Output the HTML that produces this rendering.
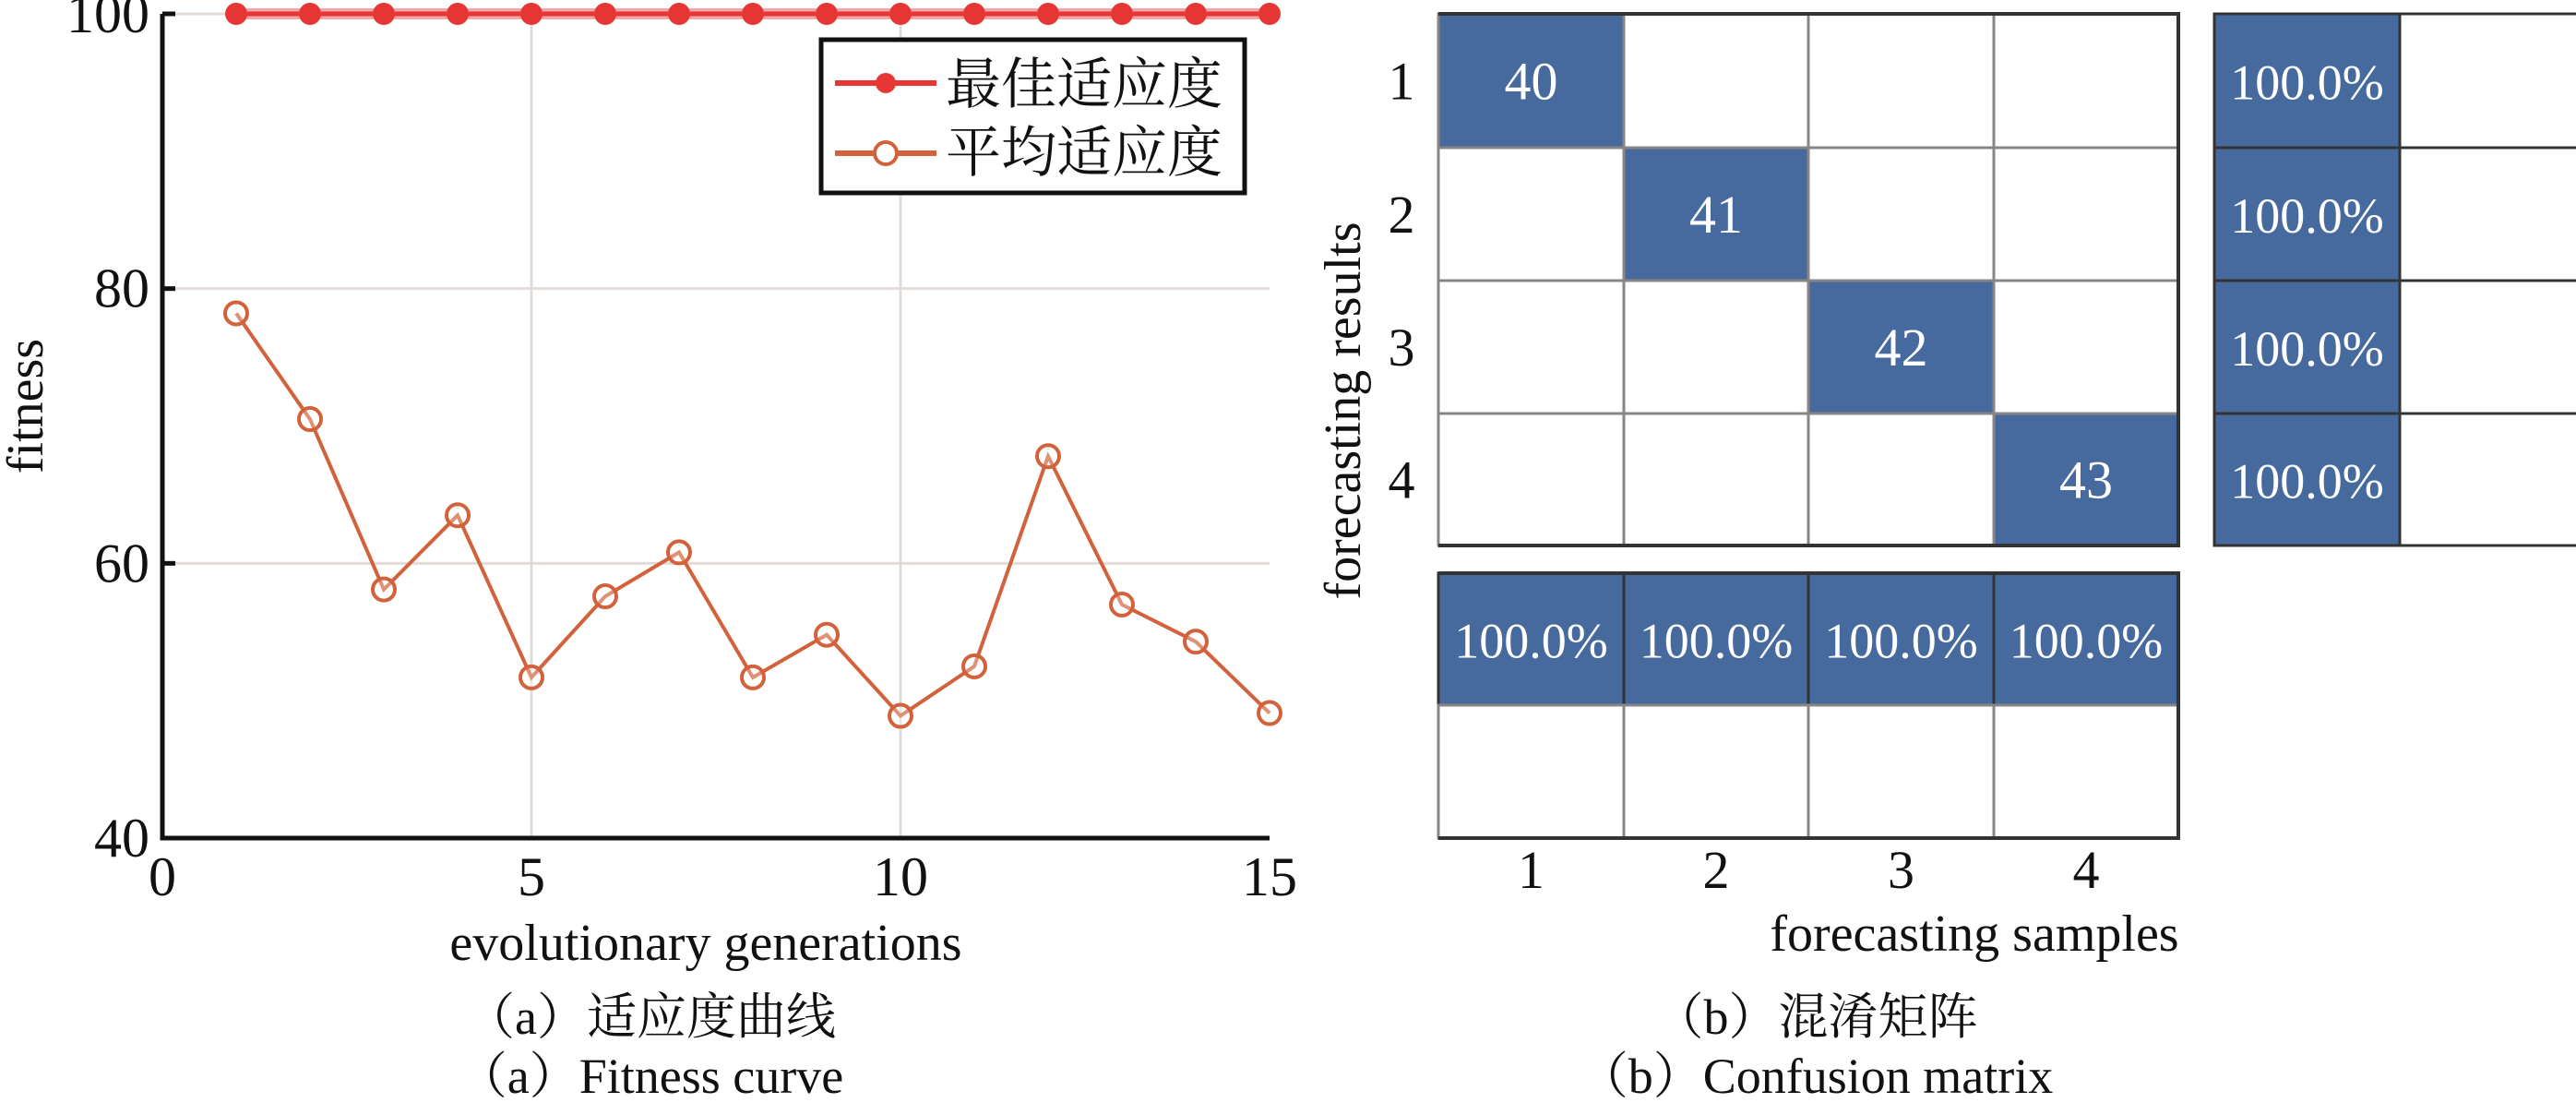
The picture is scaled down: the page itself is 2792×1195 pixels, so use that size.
<!DOCTYPE html>
<html><head><meta charset="utf-8"><style>
html,body{margin:0;padding:0;background:#fff;}
svg{display:block;font-family:"Liberation Serif","Noto Serif CJK SC",serif;}
</style></head><body>
<svg id="svg" width="2792" height="1195" viewBox="0 0 2792 1195" xmlns="http://www.w3.org/2000/svg">
<g id="left"></g>
<g id="right"></g>
</svg>
<script>
const generations=[1,2,3,4,5,6,7,8,9,10,11,12,13,14,15];
const bestFitness=[100,100,100,100,100,100,100,100,100,100,100,100,100,100,100];
const avgFitness=[78.2,70.5,58.1,63.5,51.7,57.6,60.8,51.7,54.8,48.9,52.5,67.8,57,54.3,49.1];
const xTicks=[0,5,10,15];
const yTicks=[40,60,80,100];
const matrixCounts=[[40,0,0,0],[0,41,0,0],[0,0,42,0],[0,0,0,43]];
const rowPercent=["100.0%","100.0%","100.0%","100.0%"];
const colPercent=["100.0%","100.0%","100.0%","100.0%"];
const classLabels=["1","2","3","4"];

const NS="http://www.w3.org/2000/svg";
function mk(parent,tag,attrs,text){const e=document.createElementNS(NS,tag);for(const k in attrs)e.setAttribute(k,attrs[k]);if(text!==undefined)e.textContent=text;parent.appendChild(e);return e;}
const L=document.getElementById('left');
const X0=176,X1=1376,Y0=908,Y1=15;
const xs=v=>X0+(v-0)/(15-0)*(X1-X0);
const ys=v=>Y0-(v-40)/(100-40)*(Y0-Y1);
// grid
xTicks.forEach(t=>{if(t>0&&t<15){const g=mk(L,'line',{x1:xs(t),x2:xs(t),y1:Y0,y2:Y1,stroke:'#e2dcd8','stroke-width':3});

}});
yTicks.forEach(t=>{if(t>40){const g=mk(L,'line',{x1:X0,x2:X1,y1:ys(t),y2:ys(t),stroke:'#e2dcd8','stroke-width':3});

}});
// axes
const ax=mk(L,'path',{d:`M${X0},${Y1} V${Y0} H${X1}`,fill:'none',stroke:'#111','stroke-width':5});


yTicks.forEach(t=>{
 const tk=mk(L,'line',{x1:X0,x2:X0+14,y1:ys(t),y2:ys(t),stroke:'#111','stroke-width':5});
 
 
 const tl=mk(L,'text',{x:X0-14,y:ys(t)+20,'text-anchor':'end','font-size':60,fill:'#111'},String(t));
 
 
});
xTicks.forEach(t=>{
 const tl=mk(L,'text',{x:xs(t),y:Y0+62,'text-anchor':'middle','font-size':60,fill:'#111'},String(t));
 
 
});
// avg line
const avgPts=generations.map((g,i)=>xs(g)+','+ys(avgFitness[i])).join(' ');
const al=mk(L,'polyline',{points:avgPts,fill:'none',stroke:'#d2623c','stroke-width':4});


generations.forEach((g,i)=>{const c=mk(L,'circle',{cx:xs(g),cy:ys(avgFitness[i]),r:12,fill:'#fff','fill-opacity':0.3,stroke:'#d2623c','stroke-width':4});

});
// best line
const bestPts=generations.map((g,i)=>xs(g)+','+ys(bestFitness[i])).join(' ');
const bl0=mk(L,'polyline',{points:bestPts,fill:'none',stroke:'#f6a6a6','stroke-width':12});


const bl=mk(L,'polyline',{points:bestPts,fill:'none',stroke:'#e63636','stroke-width':5});


generations.forEach((g,i)=>{const c=mk(L,'circle',{cx:xs(g),cy:ys(bestFitness[i]),r:12,fill:'#e63636'});

});
// legend
const lg=mk(L,'g',{});


mk(lg,'rect',{x:890,y:43,width:459,height:166,fill:'#fff',stroke:'#111','stroke-width':5});
mk(lg,'line',{x1:905,x2:1015,y1:90,y2:90,stroke:'#e63636','stroke-width':6});
mk(lg,'circle',{cx:960,cy:90,r:11,fill:'#e63636'});
const t1=mk(lg,'text',{x:1025,y:112,'font-size':60,fill:'#111'},'最佳适应度');


mk(lg,'line',{x1:905,x2:1015,y1:166,y2:166,stroke:'#d2623c','stroke-width':6});
mk(lg,'circle',{cx:960,cy:166,r:12,fill:'#fff',stroke:'#d2623c','stroke-width':4});
const t2=mk(lg,'text',{x:1025,y:186,'font-size':60,fill:'#111'},'平均适应度');


// labels
const xl=mk(L,'text',{x:765,y:1040,'text-anchor':'middle','font-size':56,fill:'#111'},'evolutionary generations');


const yl=mk(L,'text',{x:0,y:0,transform:'translate(46,440) rotate(-90)','text-anchor':'middle','font-size':56,fill:'#111'},'fitness');


const ca1=mk(L,'text',{x:705,y:1120,'text-anchor':'middle','font-size':54,fill:'#111'},'（a）适应度曲线');


const ca2=mk(L,'text',{x:705,y:1184,'text-anchor':'middle','font-size':54,fill:'#111'},'（a）Fitness curve');



// confusion matrix
const R=document.getElementById('right');
const colX=[1559,1760,1960,2161,2361];
const rowY=[15,160,304,448,591];
const BLUE='#46699e';
for(let r=0;r<4;r++)for(let c=0;c<4;c++){
 const v=matrixCounts[r][c];
 const rc=mk(R,'rect',{x:colX[c],y:rowY[r],width:colX[c+1]-colX[c],height:rowY[r+1]-rowY[r],fill:v>0?BLUE:'#fff',stroke:'#8a8585','stroke-width':3});
 
 
 if(v>0){const t=mk(R,'text',{x:(colX[c]+colX[c+1])/2,y:(rowY[r]+rowY[r+1])/2+20,'text-anchor':'middle','font-size':58,fill:'#fff'},String(v));
 
 }
}
mk(R,'path',{d:`M${colX[0]},${rowY[0]} H${colX[4]} V${rowY[4]} H${colX[0]}`,fill:'none',stroke:'#333','stroke-width':4});
// right column
const rcX=[2400,2601,2802];
for(let r=0;r<4;r++){
 const a=mk(R,'rect',{x:rcX[0],y:rowY[r],width:rcX[1]-rcX[0],height:rowY[r+1]-rowY[r],fill:BLUE,stroke:'#333','stroke-width':3});
 
 
 const b=mk(R,'rect',{x:rcX[1],y:rowY[r],width:rcX[2]-rcX[1],height:rowY[r+1]-rowY[r],fill:'#fff',stroke:'#333','stroke-width':3});
 
 
 const t=mk(R,'text',{x:(rcX[0]+rcX[1])/2,y:(rowY[r]+rowY[r+1])/2+20,'text-anchor':'middle','font-size':54,fill:'#fff'},rowPercent[r]);
 
 
}
// bottom rows
const brY=[621,764,908];
for(let c=0;c<4;c++){
 const a=mk(R,'rect',{x:colX[c],y:brY[0],width:colX[c+1]-colX[c],height:brY[1]-brY[0],fill:BLUE,stroke:'#333','stroke-width':3});
 
 
 const b=mk(R,'rect',{x:colX[c],y:brY[1],width:colX[c+1]-colX[c],height:brY[2]-brY[1],fill:'#fff',stroke:'#8a8585','stroke-width':3});
 
 
 const t=mk(R,'text',{x:(colX[c]+colX[c+1])/2,y:(brY[0]+brY[1])/2+20,'text-anchor':'middle','font-size':54,fill:'#fff'},colPercent[c]);
 
 
}
mk(R,'path',{d:`M${colX[0]},${brY[0]} H${colX[4]} V${brY[2]} H${colX[0]}`,fill:'none',stroke:'#333','stroke-width':4});
classLabels.forEach((l,i)=>{
 const a=mk(R,'text',{x:1519,y:(rowY[i]+rowY[i+1])/2+20,'text-anchor':'middle','font-size':58,fill:'#111'},l);
 
 
 const b=mk(R,'text',{x:(colX[i]+colX[i+1])/2,y:962,'text-anchor':'middle','font-size':58,fill:'#111'},l);
 
 
});
const rx=mk(R,'text',{x:2140,y:1030,'text-anchor':'middle','font-size':56,fill:'#111'},'forecasting samples');


const ry=mk(R,'text',{x:0,y:0,transform:'translate(1474,445) rotate(-90)','text-anchor':'middle','font-size':56,fill:'#111'},'forecasting results');


const cb1=mk(R,'text',{x:1968,y:1120,'text-anchor':'middle','font-size':54,fill:'#111'},'（b）混淆矩阵');


const cb2=mk(R,'text',{x:1968,y:1184,'text-anchor':'middle','font-size':54,fill:'#111'},'（b）Confusion matrix');


</script>
</body></html>
